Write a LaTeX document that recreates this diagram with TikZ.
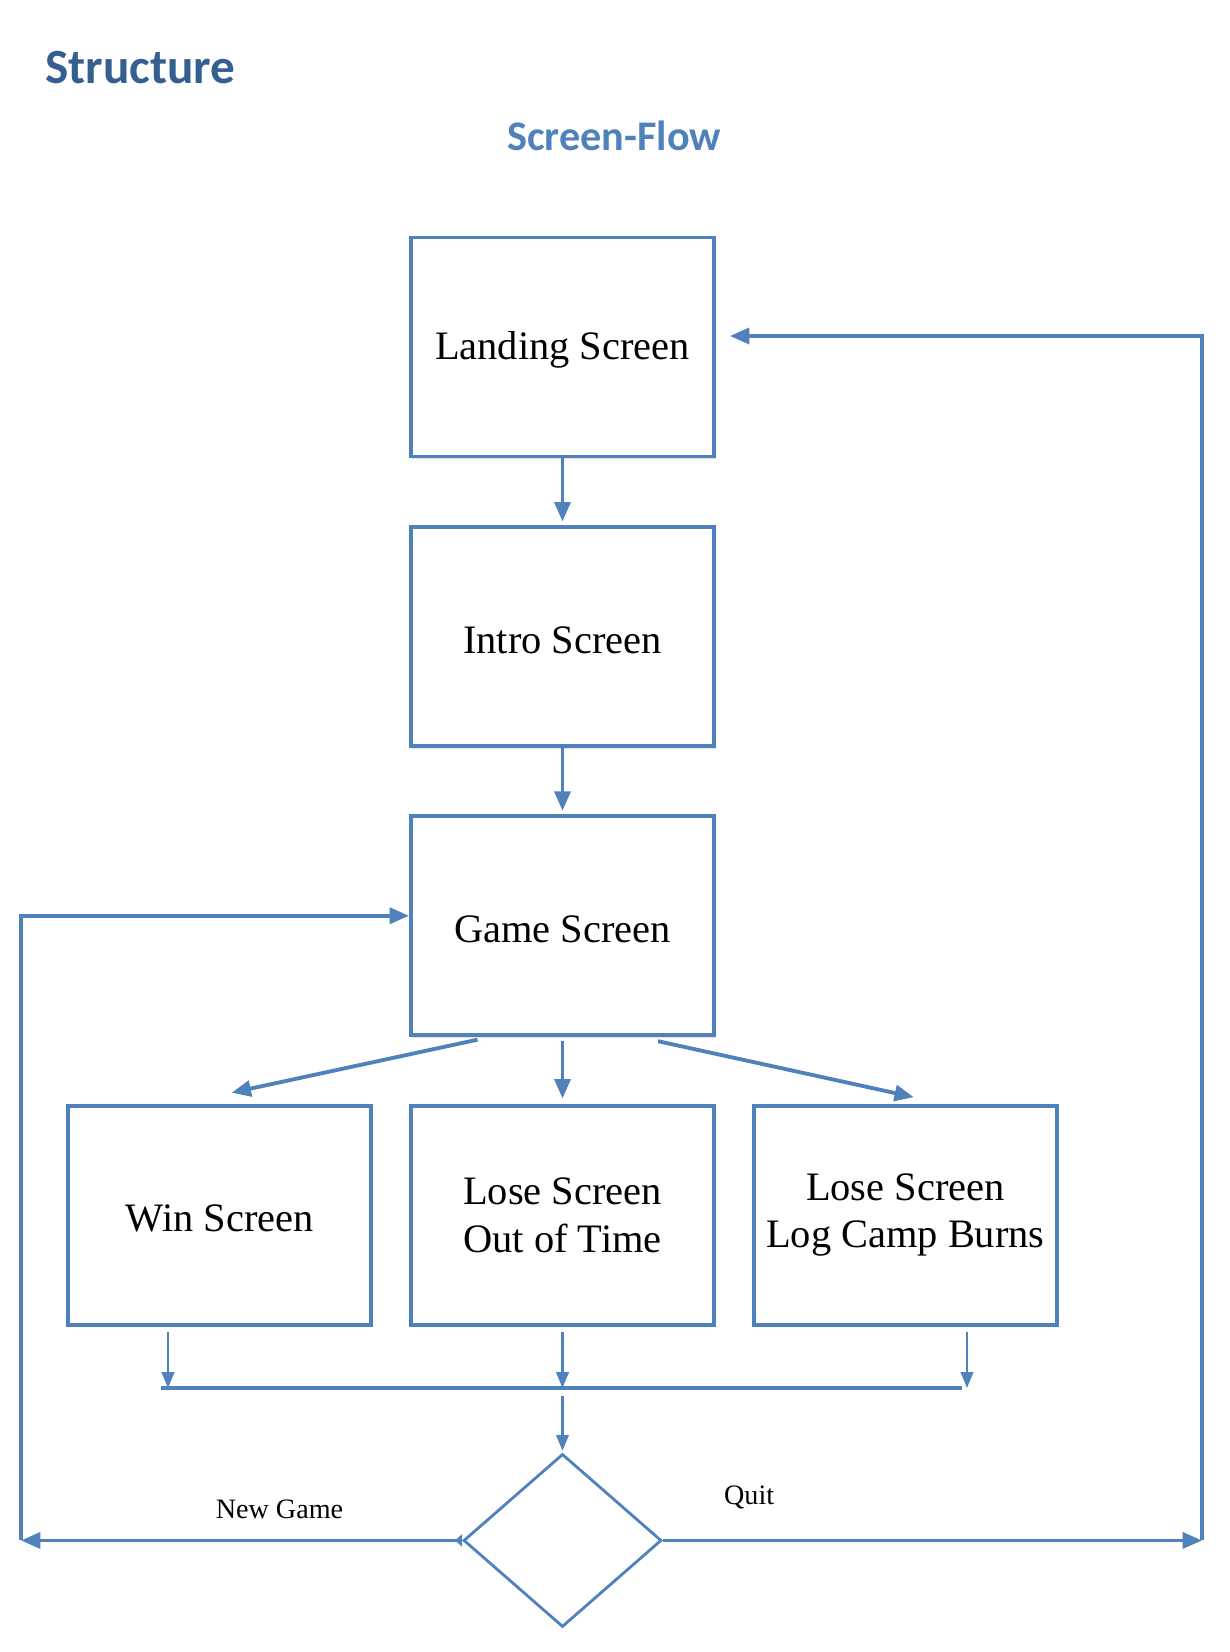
\documentclass[tikz,border=0pt]{standalone}
\usepackage{fontspec}
\setmainfont{Liberation Serif}
\newfontfamily\headfont{Carlito}
\RequirePackage{xcolor}
\usetikzlibrary{calc}
\usetikzlibrary{positioning}
\usetikzlibrary{arrows.meta}
\usetikzlibrary{shapes.geometric}
\usetikzlibrary{shadows}
\definecolor{wordblue}{RGB}{79,129,189}
\definecolor{headblue}{RGB}{54,95,145}
\tikzset{node distance=1.33cm and 0.72cm, % gap between the screen boxes
  every node/.style={align=center},
         screen/.style={ % Sets the properties for each screen box
           draw=wordblue, line width=2.2pt, fill=white,
           minimum width=6.06cm, minimum height=4.38cm,
           font=\fontsize{23}{27}\selectfont, text height=19.5pt,
           drop shadow={shadow xshift=0.6pt, shadow yshift=-1.6pt, opacity=0.22}},
         twoline/.style={text height=}, % natural height for two-line names
         choice/.style={ % the decision diamond
           diamond, draw=wordblue, line width=1.6pt, inner sep=0pt,
           minimum width=3.96cm, minimum height=3.46cm},
         flow/.style={  % thick connectors
           draw=wordblue, line width=2.2pt,
           -{Triangle[length=11pt,width=9pt]}},
         thinflow/.style={ % the short drops into the merge bar
           draw=wordblue, line width=1.5pt,
           -{Triangle[length=9pt,width=7pt]}},
         bar/.style={draw=wordblue, line width=2.2pt},
         lbl/.style={font=\fontsize{16}{19}\selectfont}}
\begin{document}
\begin{tikzpicture}
  \useasboundingbox (0,0) rectangle (24.6,-33.04);

  \node [anchor=base west, text=headblue, font=\headfont\bfseries\fontsize{28}{33}\selectfont] (title) at (0.78,-1.66) {Structure};
  \node [anchor=base west, text=wordblue, font=\headfont\bfseries\fontsize{24}{28}\selectfont] (subtitle) at (10.02,-3.0) {Screen-Flow};

  \node [screen] (landing) at (11.25,-6.94) {Landing Screen};
  \node [screen, below=of landing] (intro) {Intro Screen};
  \node [screen, below=of intro] (game) {Game Screen};
  \node [screen, twoline, below=of game] (outtime) {Lose Screen\\Out of Time};
  \node [screen, left=of outtime] (win) {Win Screen};
  \node [screen, twoline, right=of outtime] (logcamp) {Lose Screen\\Log Camp Burns};
  \node [choice, below=2.52cm of outtime] (decide) {};

  % merge bar and its end points
  \coordinate (barL) at (3.22,-27.76);
  \coordinate (barR) at (19.24,-27.76);
  \coordinate (mWin) at (3.36,-27.76);
  \coordinate (mOut) at (11.25,-27.76);
  \coordinate (mLog) at (19.34,-27.76);
  \coordinate (ngL) at (decide.west -| 0.42,0);
  \coordinate (quitR) at (decide.east -| 24.04,0);

  \draw [flow, shorten >=2pt] (landing) -- (intro);
  \draw [flow, shorten >=2pt] (intro) -- (game);

  \draw [flow] ($(game.south)+(-1.7,-0.05)$) -- ($(win.north)+(0.24,0.22)$);
  \draw [flow, shorten <=2pt, shorten >=3pt] (game.south) -- (outtime.north);
  \draw [flow] ($(game.south)+(1.91,-0.08)$) -- ($(logcamp.north)+(0.17,0.13)$);

  \draw [thinflow, shorten <=3pt] (win.south -| mWin) -- (mWin);
  \draw [thinflow, shorten <=3pt] (outtime.south -| mOut) -- (mOut);
  \draw [thinflow, shorten <=3pt] (logcamp.south -| mLog) -- (mLog);
  \draw [bar] (barL) -- (barR);
  \draw [thinflow, shorten <=4.5pt, shorten >=1pt] (mOut) -- (decide.north);

  \draw [flow, {Triangle[reversed,length=4pt,width=7pt]}-{Triangle[length=11pt,width=9pt]}] (decide.west) -- node [lbl, pos=0.414, yshift=0.62cm] {New Game} (ngL);
  \draw [flow] (ngL) |- ([yshift=0.2cm]game.west);

  \draw [flow] (decide.east) -- node [lbl, pos=0.16, yshift=0.86cm] {Quit} (quitR);
  \draw [flow] (quitR) |- ([xshift=0.28cm,yshift=0.22cm]landing.east);

\end{tikzpicture}
\end{document}
